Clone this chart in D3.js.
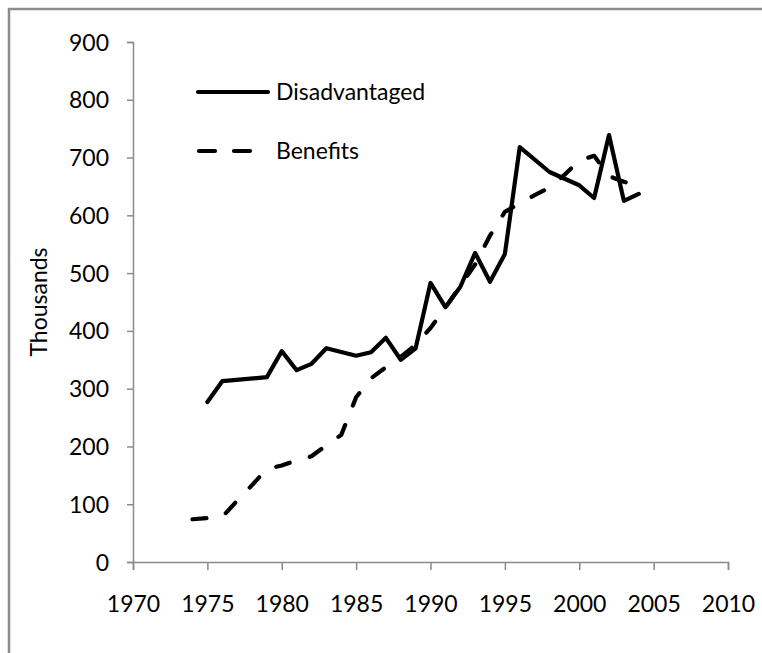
<!DOCTYPE html>
<html>
<head>
<meta charset="utf-8">
<script src="https://cdn.jsdelivr.net/npm/d3@7"></script>
<style>
  html, body { margin: 0; padding: 0; background: #fff; }
  svg { display: block; }
  text { font-family: Lato, "Open Sans", sans-serif; fill: #000; }
</style>
</head>
<body>
<script>
const disYears = [1975, 1976, 1979, 1980, 1981, 1982, 1983, 1985, 1986, 1987, 1988, 1989, 1990, 1991, 1992, 1993, 1994, 1995, 1996, 1998, 2000, 2001, 2002, 2003, 2004];
const disValues = [277, 313, 320, 365, 332, 343, 370, 357, 363, 388, 350, 370, 483, 441, 476, 535, 485, 533, 718, 675, 652, 630, 739, 625, 637];

const benYears = [1974, 1975, 1976, 1977, 1978, 1979, 1980, 1981, 1982, 1983, 1984, 1985, 1986, 1987, 1988, 1989, 1990, 1991, 1992, 1993, 1994, 1995, 1996, 1997, 1998, 1999, 2000, 2001, 2002, 2003, 2004];
const benValues = [74, 76, 78, 106, 133, 161, 167, 176, 183, 202, 220, 285, 318, 337, 355, 376, 405, 440, 478, 515, 565, 606, 621, 635, 648, 670, 695, 703, 668, 658, 652];

const xTicks = [1970, 1975, 1980, 1985, 1990, 1995, 2000, 2005, 2010];
const yTicks = [0, 100, 200, 300, 400, 500, 600, 700, 800, 900];
const seriesNames = ["Disadvantaged", "Benefits"];
const yTitle = "Thousands";

const W = 762, H = 653;
const svg = d3.select("body").append("svg").attr("width", W).attr("height", H);

// outer frame (left and top edges visible)
svg.append("path").attr("d", `M9,${H} L9,9 L${W},9`).attr("fill", "none").attr("stroke", "#8c8c8c").attr("stroke-width", 2.5);

const x = d3.scaleLinear().domain([1970, 2010]).range([133, 728]);
const y = d3.scaleLinear().domain([0, 900]).range([562, 42]);
const axisColor = "#8a8a8a";

const xAxis = svg.append("g").attr("transform", `translate(0,${y(0)})`)
  .call(d3.axisBottom(x).tickValues(xTicks).tickFormat(d3.format("d")).tickSize(8).tickPadding(26));
const yAxis = svg.append("g").attr("transform", `translate(${x(1970)},0)`)
  .call(d3.axisLeft(y).tickValues(yTicks).tickSize(6).tickPadding(18));
[xAxis, yAxis].forEach(g => {
  g.select(".domain").attr("stroke", axisColor).attr("stroke-width", 1.5);
  g.selectAll(".tick line").attr("stroke", axisColor).attr("stroke-width", 1.5);
  g.selectAll(".tick text").attr("font-size", 23).attr("font-family", "Lato, sans-serif").attr("fill", "#000");
});
yAxis.selectAll(".tick text").attr("dy", "0.35em");

svg.append("text").attr("transform", `translate(47,${(y(0) + y(900)) / 2}) rotate(-90)`)
  .attr("text-anchor", "middle").attr("font-size", 23).text(yTitle);

const line = d3.line().x(d => x(d[0])).y(d => y(d[1]));
const disData = disYears.map((d, i) => [d, disValues[i]]);
const benData = benYears.map((d, i) => [d, benValues[i]]);

svg.append("path").datum(benData).attr("d", line).attr("fill", "none")
  .attr("stroke", "#000").attr("stroke-width", 4.2).attr("stroke-dasharray", "14,21")
  .attr("stroke-linecap", "round").attr("stroke-linejoin", "round");
svg.append("path").datum(disData).attr("d", line).attr("fill", "none")
  .attr("stroke", "#000").attr("stroke-width", 4.2).attr("stroke-linejoin", "round").attr("stroke-linecap", "round");

// legend
const leg = svg.append("g");
leg.append("line").attr("x1", 198).attr("x2", 268).attr("y1", 92).attr("y2", 92)
  .attr("stroke", "#000").attr("stroke-width", 4.2).attr("stroke-linecap", "round");
leg.append("text").attr("x", 276).attr("y", 92).attr("dy", "0.35em").attr("font-size", 23).text(seriesNames[0]);
leg.append("line").attr("x1", 199).attr("x2", 268).attr("y1", 151).attr("y2", 151)
  .attr("stroke", "#000").attr("stroke-width", 4.2).attr("stroke-dasharray", "16,19").attr("stroke-linecap", "round");
leg.append("text").attr("x", 276).attr("y", 151).attr("dy", "0.35em").attr("font-size", 23).text(seriesNames[1]);
</script>
</body>
</html>
